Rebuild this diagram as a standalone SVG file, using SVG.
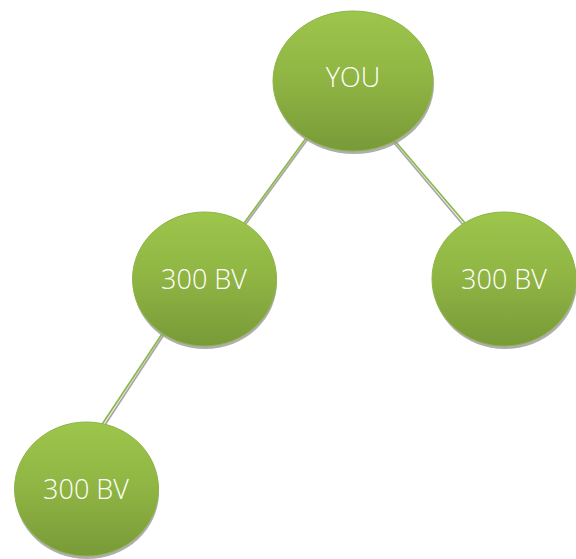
<svg xmlns="http://www.w3.org/2000/svg" width="576" height="559" viewBox="0 0 576 559">
<style>
.shadow{fill:#9a9a9a;opacity:0.8}
.node{fill:url(#g);stroke:#8db547;stroke-width:1}
.lbl{font-family:"Open Sans","Liberation Sans",sans-serif;font-weight:300;font-size:27px;fill:#ffffff;text-anchor:middle}
.conn{stroke:#8fb84a;stroke-width:1.8;fill:none}
.connsh{stroke:#a8a8a8;stroke-width:1.8;fill:none}
</style>
<defs>
<linearGradient id="g" x1="0" y1="0" x2="0" y2="1">
<stop offset="0" stop-color="#9dc64c"/>
<stop offset="0.5" stop-color="#8fb443"/>
<stop offset="1" stop-color="#789a38"/>
</linearGradient>
</defs>
<rect width="576" height="559" fill="#ffffff"/>
<g id="connectors">
<line class="connsh" x1="313" y1="132" x2="240" y2="232"/>
<line class="conn" x1="312" y1="130" x2="239" y2="230"/>
<line class="connsh" x1="389" y1="137" x2="470" y2="233"/>
<line class="conn" x1="389" y1="134" x2="471" y2="230"/>
<line class="connsh" x1="167" y1="330" x2="101" y2="431"/>
<line class="conn" x1="166" y1="328" x2="99" y2="429"/>
</g>
<g id="node-you">
<ellipse class="shadow" cx="354" cy="84" rx="80" ry="70"/>
<ellipse class="node" cx="353" cy="81" rx="80" ry="70"/>
<text class="lbl" x="353" y="87">YOU</text>
</g>
<g id="node-left">
<ellipse class="shadow" cx="205" cy="282" rx="72" ry="67"/>
<ellipse class="node" cx="204.5" cy="279" rx="72" ry="67"/>
<text class="lbl" x="204" y="289">300 BV</text>
</g>
<g id="node-right">
<ellipse class="shadow" cx="505" cy="282" rx="72" ry="67"/>
<ellipse class="node" cx="504" cy="279" rx="72" ry="67"/>
<text class="lbl" x="504" y="289">300 BV</text>
</g>
<g id="node-bottom">
<ellipse class="shadow" cx="87" cy="492" rx="72" ry="67"/>
<ellipse class="node" cx="86.5" cy="489" rx="72" ry="67"/>
<text class="lbl" x="86" y="499">300 BV</text>
</g>
</svg>
